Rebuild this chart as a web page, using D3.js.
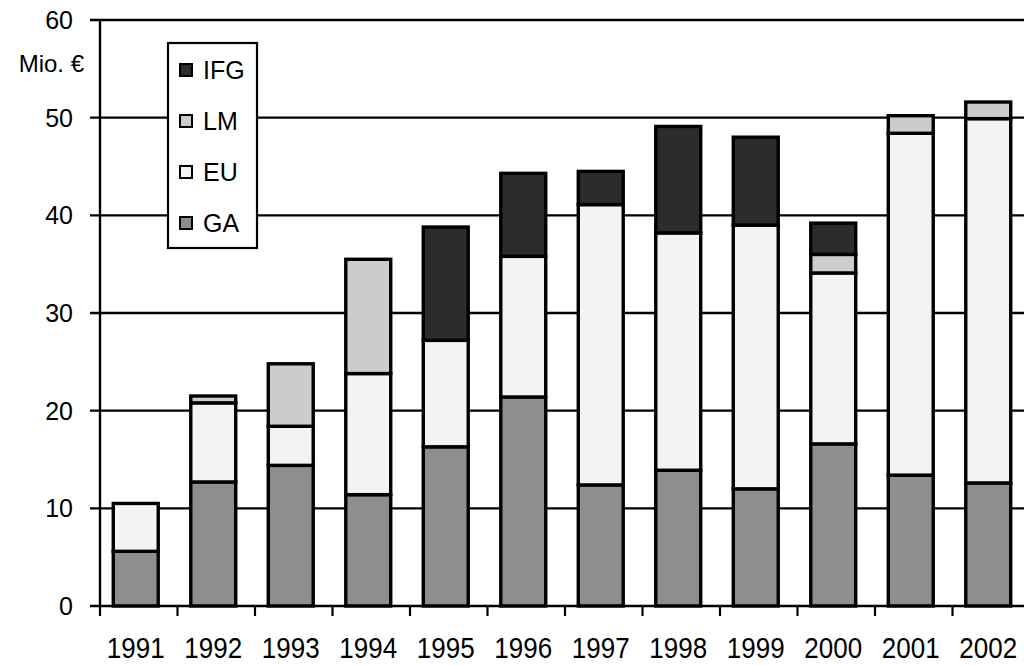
<!DOCTYPE html>
<html><head><meta charset="utf-8">
<script src="https://cdn.jsdelivr.net/npm/d3@7"></script>
<style>html,body{margin:0;padding:0;background:#fff;}svg{display:block;}</style>
</head><body>
<svg id="c" width="1024" height="665"></svg>
<script>
const years = ['1991','1992','1993','1994','1995','1996','1997','1998','1999','2000','2001','2002'];
const GA  = [5.6, 12.7, 14.4, 11.4, 16.3, 21.4, 12.4, 13.9, 12.0, 16.6, 13.4, 12.6];
const EU  = [4.9,  8.1,  4.0, 12.4, 10.9, 14.4, 28.7, 24.3, 27.0, 17.5, 35.0, 37.3];
const LM  = [0,    0.7,  6.4, 11.7,  0,    0,    0,    0,    0,    1.9,  1.8,  1.7];
const IFG = [0,    0,    0,    0,   11.6,  8.5,  3.4, 10.9,  9.0,  3.2,  0,    0];
const seriesNames = ['GA','EU','LM','IFG'];
const legendOrder = ['IFG','LM','EU','GA'];
const yTicks = [0,10,20,30,40,50,60];
const yUnit = 'Mio. €';

const colors = {GA:'#8e8e8e', EU:'#f3f3f3', LM:'#cccccc', IFG:'#2c2c2c'};
const font = "'Liberation Sans', Arial, sans-serif";

const svg = d3.select('#c');
const y = d3.scaleLinear().domain([0,60]).range([606,20]);
const xAxis = d3.scaleBand().domain(years).range([100,1030]).padding(0);
const xb = d3.scaleBand().domain(years).range([97,1027]).paddingInner(0.42).paddingOuter(0.21);

const rows = years.map((yr,i)=>({year:yr, GA:GA[i], EU:EU[i], LM:LM[i], IFG:IFG[i]}));
const stacked = d3.stack().keys(seriesNames)(rows);

// gridlines
svg.append('g').selectAll('line').data(yTicks.filter(t=>t>0)).join('line')
  .attr('x1',90).attr('x2',1024).attr('y1',d=>y(d)).attr('y2',d=>y(d))
  .attr('stroke','#000').attr('stroke-width',2.4);

// bars
const g = svg.append('g');
stacked.forEach(s=>{
  g.append('g').selectAll('rect').data(s.filter(d=>d[1]-d[0]>0)).join('rect')
    .attr('x',d=>xb(d.data.year)).attr('width',xb.bandwidth())
    .attr('y',d=>y(d[1])).attr('height',d=>y(d[0])-y(d[1]))
    .attr('fill',colors[s.key]).attr('stroke','#000').attr('stroke-width',3.4);
});

// axes
svg.append('line').attr('x1',100).attr('x2',100).attr('y1',y(60)-1).attr('y2',y(0)+1)
  .attr('stroke','#000').attr('stroke-width',2.4);
svg.append('line').attr('x1',90).attr('x2',1024).attr('y1',y(0)).attr('y2',y(0))
  .attr('stroke','#000').attr('stroke-width',2.4);
svg.append('g').selectAll('line').data(years).join('line')
  .attr('x1',d=>xAxis(d)).attr('x2',d=>xAxis(d)).attr('y1',y(0)).attr('y2',y(0)+10)
  .attr('stroke','#000').attr('stroke-width',2.2);

// y tick labels
svg.append('g').selectAll('text').data(yTicks).join('text')
  .attr('x',73).attr('y',d=>y(d)+9).attr('text-anchor','end')
  .attr('font-family',font).attr('font-size',25).text(d=>d);
svg.append('text').attr('x',84).attr('y',72).attr('text-anchor','end')
  .attr('font-family',font).attr('font-size',24).text(yUnit);

// x labels
svg.append('g').selectAll('text').data(years).join('text')
  .attr('transform',d=>`translate(${xb(d)+xb.bandwidth()/2},658) scale(1,1.15)`)
  .attr('text-anchor','middle')
  .attr('font-family',font).attr('font-size',26).text(d=>d);

// legend
const lg = svg.append('g');
lg.append('rect').attr('x',168).attr('y',43).attr('width',89).attr('height',205)
  .attr('fill','#fff').attr('stroke','#000').attr('stroke-width',2.2);
const ly = d3.scalePoint().domain(legendOrder).range([70,223]);
legendOrder.forEach(k=>{
  lg.append('rect').attr('x',180).attr('y',ly(k)-6).attr('width',12).attr('height',12)
    .attr('fill',colors[k]).attr('stroke','#000').attr('stroke-width',2);
  lg.append('text').attr('x',203).attr('y',ly(k)+9).attr('font-family',font).attr('font-size',25).text(k);
});
</script>
</body></html>
